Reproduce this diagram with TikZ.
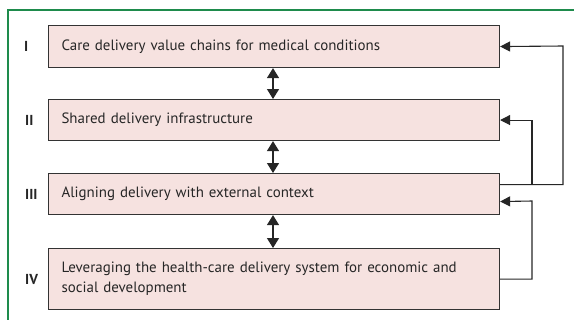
\documentclass[tikz,border=0pt]{standalone}
\usepackage{fontspec}
\setmainfont{PT Sans}
\usetikzlibrary{arrows.meta}
\definecolor{framegreen}{HTML}{1E8B4C}
\definecolor{boxfill}{HTML}{F6E2E0}
\definecolor{boxline}{HTML}{333333}
\tikzset{
  stagebox/.style={draw=boxline, line width=1.1bp, fill=boxfill, anchor=north west,
    minimum width=451bp, text width=425bp, align=left, inner xsep=13bp, inner ysep=0pt,
    font=\fontsize{15}{20}\selectfont, text=black!85},
  stagelabel/.style={anchor=west, font=\bfseries\fontsize{14.5}{16}\selectfont, text=black!85, inner sep=0pt},
  dbl/.style={line width=1.3bp, draw=black!85,
    {Triangle[length=10bp,width=12bp]}-{Triangle[length=10bp,width=12bp]}},
  fb/.style={line width=1.1bp, draw=black!85, -{Triangle[length=10bp,width=10bp]}},
}
\begin{document}
\begin{tikzpicture}[x=1bp,y=-1bp]
\useasboundingbox (0,0) rectangle (574,320);
% open frame: top rule and left rule
\draw[framegreen, line width=1.1bp] (574,10) -- (8,10) -- (8,320);

% the four stages
\node[stagebox, minimum height=42bp] (b1) at (48,25) {Care delivery value chains for medical conditions};
\node[stagebox, minimum height=41bp] (b2) at (48,99) {Shared delivery infrastructure};
\node[stagebox, minimum height=41bp] (b3) at (48,173) {Aligning delivery with external context};
\node[stagebox, minimum height=61bp] (b4) at (48,248) {Leveraging the health-care delivery system for economic and\\social development};

% stage numerals
\node[stagelabel] (l1) at (24,46) {I};
\node[stagelabel] (l2) at (25,120) {II};
\node[stagelabel] (l3) at (25,194) {III};
\node[stagelabel] (l4) at (25,279) {IV};

% links between neighbouring stages
\draw[dbl] ([xshift=225bp]b1.south west) -- ([xshift=225bp]b2.north west);
\draw[dbl] ([xshift=225bp]b2.south west) -- ([xshift=225bp]b3.north west);
\draw[dbl] ([xshift=225bp]b3.south west) -- ([xshift=225bp]b4.north west);

% feedback loops on the right
\coordinate (out3) at ([yshift=9.5bp]b3.east);
\coordinate (rail1) at (563,46);
\coordinate (split) at (532,184);
\coordinate (rail4) at (532,201);
\draw[fb] (out3) -| (rail1) -- (b1.east);
\draw[fb] (split) |- (b2.east);
\draw[fb] (b4.east) -| (rail4) -- ([yshift=-7.5bp]b3.east);
\end{tikzpicture}
\end{document}
